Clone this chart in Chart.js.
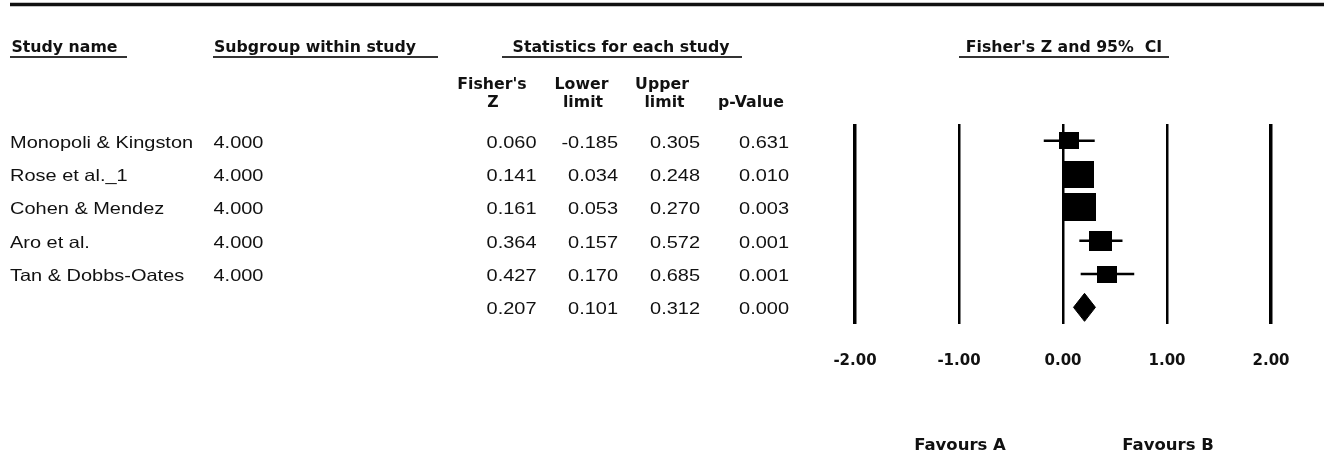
<!DOCTYPE html>
<html><head><meta charset="utf-8">
<script src="https://cdn.jsdelivr.net/npm/chart.js@4.4.1/dist/chart.umd.min.js"></script>
<style>html,body{margin:0;padding:0;background:#fff;overflow:hidden}canvas{display:block}</style>
</head><body>
<canvas id="c" width="1324" height="457"></canvas>
<script>
// ---- data ----
const studyNames = ['Monopoli & Kingston', 'Rose et al._1', 'Cohen & Mendez', 'Aro et al.', 'Tan & Dobbs-Oates'];
const subgroups = ['4.000', '4.000', '4.000', '4.000', '4.000'];
const fisherZ = [0.060, 0.141, 0.161, 0.364, 0.427];
const lowerLimit = [-0.185, 0.034, 0.053, 0.157, 0.170];
const upperLimit = [0.305, 0.248, 0.270, 0.572, 0.685];
const pValues = [0.631, 0.010, 0.003, 0.001, 0.001];
const weights = [12, 29, 31, 16, 12];           // relative weights (box area)
const summaryZ = [0.207];
const summaryLower = [0.101];
const summaryUpper = [0.312];
const summaryP = [0.000];
const xTicks = [-2, -1, 0, 1, 2];
const favourLabels = ['Favours A', 'Favours B'];
const favourAt = [-1, 1];

// ---- styles ----
const INK = '#111';
const BOLD = 'bold 15px "DejaVu Sans", Verdana, sans-serif';
const REG = '16.5px "Liberation Sans", Arial, sans-serif';
const SX_REG = 1.21, SX_BOLD = 1.05;
const DIAMOND_HALF = 0.42;

function boxImage(w) {
  const h = Math.round(5 * Math.sqrt(w));
  const c = document.createElement('canvas');
  c.width = Math.round(h * 1.17); c.height = h;
  const g = c.getContext('2d'); g.fillStyle = '#000'; g.fillRect(0, 0, c.width, c.height);
  return c;
}

const rows = studyNames.map((_, i) => i);
const datasets = [];
rows.forEach(i => {
  datasets.push({
    type: 'scatter', showLine: true, order: 3,
    data: [{x: lowerLimit[i], y: i}, {x: upperLimit[i], y: i}],
    borderColor: '#000', borderWidth: 2.5, pointRadius: 0, fill: false
  });
});
datasets.push({
  type: 'scatter', order: 1,
  data: rows.map(i => ({x: fisherZ[i], y: i})),
  pointStyle: weights.map(boxImage), pointRadius: 10
});
const sy = studyNames.length;
datasets.push({
  type: 'scatter', showLine: true, order: 1,
  data: [
    {x: summaryLower[0], y: sy}, {x: summaryZ[0], y: sy - DIAMOND_HALF},
    {x: summaryUpper[0], y: sy}, {x: summaryZ[0], y: sy + DIAMOND_HALF},
    {x: summaryLower[0], y: sy}
  ],
  borderColor: '#000', backgroundColor: '#000', borderWidth: 1, pointRadius: 0,
  fill: 'shape', tension: 0
});

function txt(ctx, s, x, y, font, align, sx) {
  ctx.save();
  ctx.font = font; ctx.fillStyle = INK; ctx.textAlign = align; ctx.textBaseline = 'alphabetic';
  ctx.translate(x, y); ctx.scale(sx, 1); ctx.fillText(s, 0, 0);
  ctx.restore();
}
function hline(ctx, x1, x2, y, w, col) {
  ctx.save(); ctx.strokeStyle = col; ctx.lineWidth = w;
  ctx.beginPath(); ctx.moveTo(x1, y); ctx.lineTo(x2, y); ctx.stroke(); ctx.restore();
}

const tablePlugin = {
  id: 'forestTable',
  afterDraw(chart) {
    const ctx = chart.ctx, xs = chart.scales.x, ys = chart.scales.y;
    // top rule
    hline(ctx, 10, 1324, 4.5, 3.5, '#111');
    // headers
    txt(ctx, 'Study name', 11.5, 52, BOLD, 'left', SX_BOLD);
    hline(ctx, 10, 127, 57, 2.2, '#333');
    txt(ctx, 'Subgroup within study', 214, 52, BOLD, 'left', SX_BOLD);
    hline(ctx, 213, 438, 57, 2.2, '#333');
    txt(ctx, 'Statistics for each study', 621, 52, BOLD, 'center', SX_BOLD);
    hline(ctx, 502, 742, 57, 2.2, '#333');
    const c0 = xs.getPixelForValue(0);
    txt(ctx, "Fisher's Z and 95%  CI", c0 + 1, 52, BOLD, 'center', SX_BOLD);
    hline(ctx, xs.getPixelForValue(-1), xs.getPixelForValue(1) + 2, 57, 2.2, '#333');
    // sub headers
    txt(ctx, "Fisher's", 492, 89, BOLD, 'center', SX_BOLD);
    txt(ctx, 'Z', 493, 106.5, BOLD, 'center', SX_BOLD);
    txt(ctx, 'Lower', 581.5, 89, BOLD, 'center', SX_BOLD);
    txt(ctx, 'limit', 583, 106.5, BOLD, 'center', SX_BOLD);
    txt(ctx, 'Upper', 662, 89, BOLD, 'center', SX_BOLD);
    txt(ctx, 'limit', 664.5, 106.5, BOLD, 'center', SX_BOLD);
    txt(ctx, 'p-Value', 751, 106.5, BOLD, 'center', SX_BOLD);
    // rows
    const f = v => v.toFixed(3);
    rows.forEach(i => {
      const y = ys.getPixelForValue(i) + 7;
      txt(ctx, studyNames[i], 10, y, REG, 'left', SX_REG);
      txt(ctx, subgroups[i], 213.5, y, REG, 'left', SX_REG);
      txt(ctx, f(fisherZ[i]), 536.5, y, REG, 'right', SX_REG);
      txt(ctx, f(lowerLimit[i]), 618, y, REG, 'right', SX_REG);
      txt(ctx, f(upperLimit[i]), 700, y, REG, 'right', SX_REG);
      txt(ctx, f(pValues[i]), 789, y, REG, 'right', SX_REG);
    });
    const yS = ys.getPixelForValue(sy) + 7;
    txt(ctx, f(summaryZ[0]), 536.5, yS, REG, 'right', SX_REG);
    txt(ctx, f(summaryLower[0]), 618, yS, REG, 'right', SX_REG);
    txt(ctx, f(summaryUpper[0]), 700, yS, REG, 'right', SX_REG);
    txt(ctx, f(summaryP[0]), 789, yS, REG, 'right', SX_REG);
    // favours labels
    favourLabels.forEach((s, k) => txt(ctx, s, xs.getPixelForValue(favourAt[k]) + 1, 450, BOLD, 'center', 1.1));
  }
};

new Chart(document.getElementById('c'), {
  type: 'scatter',
  data: { datasets },
  plugins: [tablePlugin],
  options: {
    responsive: false, animation: false, devicePixelRatio: 1, events: [],
    layout: { padding: { left: 855, right: 53, top: 124, bottom: 73 } },
    plugins: { legend: { display: false }, tooltip: { enabled: false } },
    scales: {
      x: {
        type: 'linear', min: -2, max: 2,
        afterBuildTicks: s => { s.ticks = xTicks.map(v => ({ value: v })); },
        afterFit: s => { s.height = 60; },
        ticks: {
          padding: 28, color: INK, maxRotation: 0, autoSkip: false,
          font: { family: '"DejaVu Sans", Verdana, sans-serif', weight: 'bold', size: 15 },
          callback: v => Number(v).toFixed(2)
        },
        grid: {
          color: '#000', drawTicks: false,
          lineWidth: c => (c.tick && Math.abs(c.tick.value) === 2) ? 3.5 : 2.5
        },
        border: { display: false }
      },
      y: { type: 'linear', min: -0.5, max: 5.5, reverse: true, display: false }
    }
  }
});
</script>
</body></html>
